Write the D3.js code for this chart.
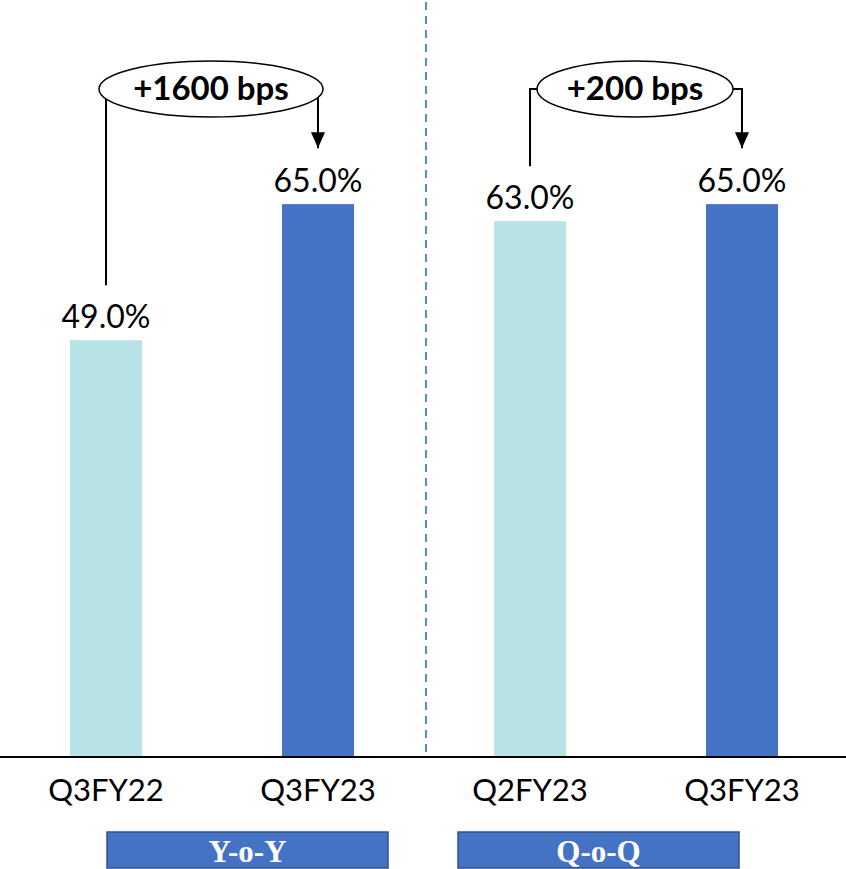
<!DOCTYPE html>
<html>
<head>
<meta charset="utf-8">
<script src="https://cdn.jsdelivr.net/npm/d3@7"></script>
<style>
  body { margin: 0; background: #fff; }
  svg { display: block; }
</style>
</head>
<body>
<div id="chart"></div>
<script>
// chart data
const categories = ['Q3FY22', 'Q3FY23', 'Q2FY23', 'Q3FY23 '];
const values = [49.0, 65.0, 63.0, 65.0];
const barColors = ['#B7E2E6', '#4472C4', '#B7E2E6', '#4472C4'];
const groupLabels = ['Y-o-Y', 'Q-o-Q'];
const changeLabels = ['+1600 bps', '+200 bps'];

const width = 846, height = 869;
const baseY = 757;
const font = 'Lato, "Open Sans", sans-serif';

const svg = d3.select('#chart').append('svg')
    .attr('width', width)
    .attr('height', height);

const x = d3.scaleBand()
    .domain(categories)
    .range([0, 848])
    .paddingInner(0.66)
    .paddingOuter(0.33);

const y = d3.scaleLinear()
    .domain([0, 89])
    .range([baseY, 0]);

// arrow head, a bit longer than wide like the original
svg.append('defs').append('marker')
    .attr('id', 'arrow')
    .attr('viewBox', '0 0 16 14')
    .attr('refX', 16).attr('refY', 7)
    .attr('markerWidth', 8).attr('markerHeight', 7)
    .attr('markerUnits', 'strokeWidth')
    .attr('orient', 'auto')
    .append('path')
    .attr('d', 'M0,0 L16,7 L0,14 Z')
    .attr('fill', '#000');

// divider between the two comparisons
svg.append('line')
    .attr('x1', 426).attr('x2', 426)
    .attr('y1', 2).attr('y2', baseY)
    .attr('stroke', '#4A8FDA')
    .attr('stroke-width', 2)
    .attr('stroke-dasharray', '8,6');

// bars
svg.selectAll('rect.bar')
    .data(values)
    .enter()
    .append('rect')
    .attr('class', 'bar')
    .attr('x', (d, i) => x(categories[i]))
    .attr('y', d => y(d))
    .attr('width', x.bandwidth())
    .attr('height', d => baseY - y(d))
    .attr('fill', (d, i) => barColors[i]);

// value labels
svg.selectAll('text.val')
    .data(values)
    .enter()
    .append('text')
    .attr('class', 'val')
    .attr('x', (d, i) => x(categories[i]) + x.bandwidth() / 2)
    .attr('y', d => y(d) - 12)
    .attr('text-anchor', 'middle')
    .style('font-family', font)
    .style('font-size', '32px')
    .text(d => d.toFixed(1) + '%');

// x axis
const xAxis = svg.append('g')
    .attr('transform', `translate(0,${baseY})`)
    .call(d3.axisBottom(x).tickSize(0).tickPadding(21));
xAxis.select('.domain').remove();
xAxis.selectAll('text')
    .style('font-family', font)
    .style('font-size', '31px')
    .attr('fill', '#000')
    .attr('dy', '0.75em')
    .text(d => d.trim());

svg.append('line')
    .attr('x1', 0).attr('x2', width)
    .attr('y1', baseY).attr('y2', baseY)
    .attr('stroke', '#000')
    .attr('stroke-width', 2);

// change annotations
const cx = i => x(categories[i]) + x.bandwidth() / 2;
const ellY = 89;
const annos = [
    { from: 0, to: 1, ecx: 211, rx: 112, label: changeLabels[0] },
    { from: 2, to: 3, ecx: 635, rx: 98, label: changeLabels[1] }
];

annos.forEach(a => {
    const x0 = cx(a.from), x1 = cx(a.to);
    const g = svg.append('g');
    // elbow from the first bar label up to the ellipse, and down to the second
    g.append('path')
        .attr('d', `M${x0},${y(values[a.from]) - 55} V${ellY} H${a.ecx}`)
        .attr('fill', 'none')
        .attr('stroke', '#000')
        .attr('stroke-width', 2);
    g.append('path')
        .attr('d', `M${a.ecx},${ellY} H${x1} V${y(values[a.to]) - 56}`)
        .attr('fill', 'none')
        .attr('stroke', '#000')
        .attr('stroke-width', 2)
        .attr('marker-end', 'url(#arrow)');
    g.append('ellipse')
        .attr('cx', a.ecx).attr('cy', ellY)
        .attr('rx', a.rx).attr('ry', 28)
        .attr('fill', '#fff')
        .attr('stroke', '#000')
        .attr('stroke-width', 1.5);
    g.append('text')
        .attr('x', a.ecx).attr('y', ellY + 11)
        .attr('text-anchor', 'middle')
        .style('font-family', font)
        .style('font-size', '33px')
        .style('font-weight', 'bold')
        .text(a.label);
});

// group boxes under the axis
const groupBoxes = [
    { x0: 107, x1: 388 },
    { x0: 458, x1: 739 }
];
groupBoxes.forEach((b, i) => {
    svg.append('rect')
        .attr('x', b.x0).attr('y', 832)
        .attr('width', b.x1 - b.x0).attr('height', 36)
        .attr('fill', '#4472C4')
        .attr('stroke', '#2F528F')
        .attr('stroke-width', 1.5);
    svg.append('text')
        .attr('x', (b.x0 + b.x1) / 2).attr('y', 862)
        .attr('text-anchor', 'middle')
        .style('font-family', '"Liberation Serif", "DejaVu Serif", serif')
        .style('font-size', '31px')
        .style('font-weight', 'bold')
        .attr('fill', '#fff')
        .text(groupLabels[i]);
});
</script>
</body>
</html>
